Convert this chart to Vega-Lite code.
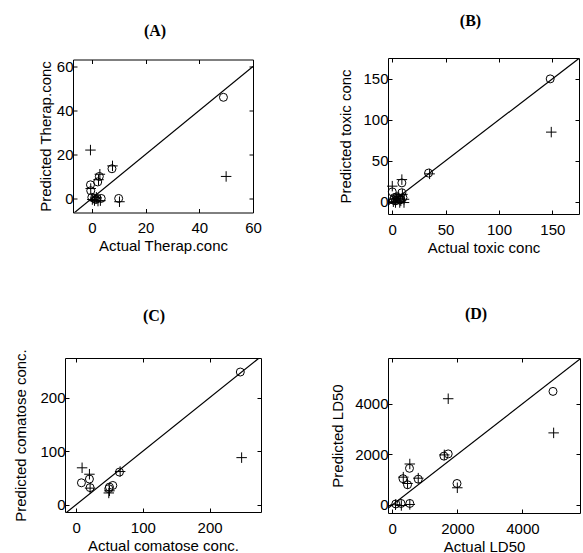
{
  "$schema": "https://vega.github.io/schema/vega-lite/v6.json",
  "padding": {"left": 13, "top": 12, "right": 0, "bottom": 0},
  "background": "white",
  "config": {
    "view": {"stroke": "black", "strokeWidth": 1},
    "axis": {"labelFont": "Liberation Sans", "labelFontSize": 15, "labelColor": "black", "titleFont": "Liberation Sans", "titleFontSize": 15, "titleFontWeight": "normal", "titleColor": "black", "tickColor": "black", "tickSize": -4, "domain": false, "grid": false, "labelFlush": false, "labelOverlap": false, "format": "d"},
    "axisX": {"labelPadding": 12, "titlePadding": 3},
    "axisY": {"labelPadding": 4, "titlePadding": 6},
    "title": {"font": "Liberation Serif", "fontSize": 16, "fontWeight": "bold", "color": "black"}
  },
  "datasets": {
    "pts": [
      {"panel": "A", "marker": "o", "actual": 49, "predicted": 46},
      {"panel": "A", "marker": "+", "actual": 50, "predicted": 10},
      {"panel": "A", "marker": "+", "actual": -0.5, "predicted": 22},
      {"panel": "A", "marker": "o", "actual": 7.5, "predicted": 13.5},
      {"panel": "A", "marker": "+", "actual": 7.7, "predicted": 14.8},
      {"panel": "A", "marker": "o", "actual": 2.8, "predicted": 10},
      {"panel": "A", "marker": "+", "actual": 3, "predicted": 11},
      {"panel": "A", "marker": "o", "actual": 2.2, "predicted": 7.5},
      {"panel": "A", "marker": "+", "actual": 2.5, "predicted": 8.5},
      {"panel": "A", "marker": "o", "actual": -0.5, "predicted": 6.2},
      {"panel": "A", "marker": "o", "actual": -0.4, "predicted": 3.5},
      {"panel": "A", "marker": "+", "actual": -0.4, "predicted": 4.5},
      {"panel": "A", "marker": "o", "actual": 0, "predicted": 0.5},
      {"panel": "A", "marker": "+", "actual": 0.2, "predicted": -0.5},
      {"panel": "A", "marker": "o", "actual": 1, "predicted": 0},
      {"panel": "A", "marker": "+", "actual": 1, "predicted": -1},
      {"panel": "A", "marker": "o", "actual": 1.5, "predicted": -0.5},
      {"panel": "A", "marker": "+", "actual": 1.7, "predicted": 0.5},
      {"panel": "A", "marker": "o", "actual": 2, "predicted": 0},
      {"panel": "A", "marker": "+", "actual": 2.3, "predicted": -1.2},
      {"panel": "A", "marker": "o", "actual": 3.5, "predicted": 0},
      {"panel": "A", "marker": "+", "actual": 3.2, "predicted": -1},
      {"panel": "A", "marker": "o", "actual": 10, "predicted": 0},
      {"panel": "A", "marker": "+", "actual": 10.3, "predicted": -1.5},
      {"panel": "B", "marker": "o", "actual": 148, "predicted": 150},
      {"panel": "B", "marker": "+", "actual": 149, "predicted": 85},
      {"panel": "B", "marker": "o", "actual": 34, "predicted": 35},
      {"panel": "B", "marker": "+", "actual": 35, "predicted": 34},
      {"panel": "B", "marker": "o", "actual": 9, "predicted": 23},
      {"panel": "B", "marker": "+", "actual": 9, "predicted": 27},
      {"panel": "B", "marker": "+", "actual": 0, "predicted": 19},
      {"panel": "B", "marker": "o", "actual": 0, "predicted": 12},
      {"panel": "B", "marker": "o", "actual": 9, "predicted": 11},
      {"panel": "B", "marker": "+", "actual": 9.5, "predicted": 9},
      {"panel": "B", "marker": "o", "actual": 2, "predicted": 5},
      {"panel": "B", "marker": "+", "actual": 2.5, "predicted": 3},
      {"panel": "B", "marker": "o", "actual": 4, "predicted": 6},
      {"panel": "B", "marker": "+", "actual": 4, "predicted": 4},
      {"panel": "B", "marker": "o", "actual": 6, "predicted": 4},
      {"panel": "B", "marker": "+", "actual": 6, "predicted": 6},
      {"panel": "B", "marker": "o", "actual": 8, "predicted": 3},
      {"panel": "B", "marker": "+", "actual": 8, "predicted": 1},
      {"panel": "B", "marker": "o", "actual": 1, "predicted": 2},
      {"panel": "B", "marker": "+", "actual": 1, "predicted": 0},
      {"panel": "B", "marker": "o", "actual": 10, "predicted": 5},
      {"panel": "B", "marker": "+", "actual": 11, "predicted": 3},
      {"panel": "B", "marker": "o", "actual": 7, "predicted": 2},
      {"panel": "B", "marker": "+", "actual": 7, "predicted": -1},
      {"panel": "B", "marker": "+", "actual": 11, "predicted": -1},
      {"panel": "B", "marker": "o", "actual": 3, "predicted": 1},
      {"panel": "B", "marker": "+", "actual": 3, "predicted": -1},
      {"panel": "C", "marker": "o", "actual": 246, "predicted": 248},
      {"panel": "C", "marker": "+", "actual": 248, "predicted": 88},
      {"panel": "C", "marker": "o", "actual": 65, "predicted": 61},
      {"panel": "C", "marker": "+", "actual": 66, "predicted": 62},
      {"panel": "C", "marker": "+", "actual": 9, "predicted": 69},
      {"panel": "C", "marker": "+", "actual": 20, "predicted": 57},
      {"panel": "C", "marker": "o", "actual": 20, "predicted": 48},
      {"panel": "C", "marker": "o", "actual": 8, "predicted": 41},
      {"panel": "C", "marker": "o", "actual": 21, "predicted": 32},
      {"panel": "C", "marker": "+", "actual": 21, "predicted": 31},
      {"panel": "C", "marker": "o", "actual": 50, "predicted": 33},
      {"panel": "C", "marker": "+", "actual": 50, "predicted": 26},
      {"panel": "C", "marker": "o", "actual": 55, "predicted": 36},
      {"panel": "C", "marker": "o", "actual": 49, "predicted": 30},
      {"panel": "C", "marker": "+", "actual": 49, "predicted": 22},
      {"panel": "D", "marker": "o", "actual": 4940, "predicted": 4490},
      {"panel": "D", "marker": "+", "actual": 4960, "predicted": 2850},
      {"panel": "D", "marker": "+", "actual": 1720, "predicted": 4200},
      {"panel": "D", "marker": "o", "actual": 1590, "predicted": 1930},
      {"panel": "D", "marker": "+", "actual": 1600, "predicted": 1980},
      {"panel": "D", "marker": "o", "actual": 1720, "predicted": 2020},
      {"panel": "D", "marker": "o", "actual": 1990, "predicted": 850},
      {"panel": "D", "marker": "+", "actual": 2000, "predicted": 680},
      {"panel": "D", "marker": "o", "actual": 530, "predicted": 1450},
      {"panel": "D", "marker": "+", "actual": 540, "predicted": 1620},
      {"panel": "D", "marker": "o", "actual": 330, "predicted": 1040},
      {"panel": "D", "marker": "+", "actual": 340, "predicted": 1100},
      {"panel": "D", "marker": "o", "actual": 470, "predicted": 800},
      {"panel": "D", "marker": "+", "actual": 470, "predicted": 850},
      {"panel": "D", "marker": "o", "actual": 800, "predicted": 1020},
      {"panel": "D", "marker": "+", "actual": 800, "predicted": 1060},
      {"panel": "D", "marker": "o", "actual": 540, "predicted": 60},
      {"panel": "D", "marker": "+", "actual": 540, "predicted": 20},
      {"panel": "D", "marker": "o", "actual": 110, "predicted": 40},
      {"panel": "D", "marker": "+", "actual": 100, "predicted": 10},
      {"panel": "D", "marker": "o", "actual": 270, "predicted": 60},
      {"panel": "D", "marker": "+", "actual": 280, "predicted": -20}
    ],
    "diag": [
      {"panel": "A", "actual": -7, "predicted": -7},
      {"panel": "A", "actual": 60, "predicted": 60},
      {"panel": "B", "actual": -15, "predicted": -15},
      {"panel": "B", "actual": 176, "predicted": 176},
      {"panel": "C", "actual": -17, "predicted": -17},
      {"panel": "C", "actual": 277, "predicted": 277},
      {"panel": "D", "actual": -320, "predicted": -320},
      {"panel": "D", "actual": 5810, "predicted": 5810}
    ]
  },
  "columns": 2,
  "bounds": "flush",
  "align": "all",
  "center": true,
  "spacing": {"row": 144, "column": 127},
  "concat": [
    {
      "width": 180, "height": 153,
      "title": {"text": "(A)", "offset": 20, "dx": -8},
      "resolve": {"axis": {"x": "independent", "y": "independent"}},
      "layer": [
        {"data": {"name": "diag"}, "transform": [{"filter": "datum.panel == 'A'"}],
         "mark": {"type": "line", "color": "black", "strokeWidth": 1.2, "clip": true},
         "encoding": {
           "x": {"field": "actual", "type": "quantitative", "scale": {"domain": [-7, 60], "nice": false, "zero": false}, "axis": {"title": "Actual Therap.conc", "values": [0, 20, 40, 60]}},
           "y": {"field": "predicted", "type": "quantitative", "scale": {"domain": [-6.4, 63.2], "nice": false, "zero": false}, "axis": {"title": "Predicted Therap.conc", "values": [0, 20, 40, 60], "titlePadding": 3}}
         }},
        {"data": {"name": "pts"}, "transform": [{"filter": "datum.panel == 'A' && datum.marker == 'o'"}],
         "mark": {"type": "point", "shape": "circle", "size": 64, "filled": false, "color": "black", "strokeWidth": 1, "opacity": 1},
         "encoding": {
           "x": {"field": "actual", "type": "quantitative", "axis": {"orient": "top", "values": [0, 20, 40, 60], "labels": false, "title": null}},
           "y": {"field": "predicted", "type": "quantitative", "axis": {"orient": "right", "values": [0, 20, 40, 60], "labels": false, "title": null}}
         }},
        {"data": {"name": "pts"}, "transform": [{"filter": "datum.panel == 'A' && datum.marker == '+'"}],
         "mark": {"type": "point", "shape": "M-1,0L1,0M0,-1L0,1", "size": 110, "filled": false, "color": "black", "strokeWidth": 1, "opacity": 1},
         "encoding": {
           "x": {"field": "actual", "type": "quantitative", "axis": null},
           "y": {"field": "predicted", "type": "quantitative", "axis": null}
         }}
      ]
    },
    {
      "width": 191, "height": 156,
      "title": {"text": "(B)", "offset": 29, "dx": -13},
      "resolve": {"axis": {"x": "independent", "y": "independent"}},
      "layer": [
        {"data": {"name": "diag"}, "transform": [{"filter": "datum.panel == 'B'"}],
         "mark": {"type": "line", "color": "black", "strokeWidth": 1.2, "clip": true},
         "encoding": {
           "x": {"field": "actual", "type": "quantitative", "scale": {"domain": [-4, 175], "nice": false, "zero": false}, "axis": {"title": "Actual toxic conc", "values": [0, 50, 100, 150]}},
           "y": {"field": "predicted", "type": "quantitative", "scale": {"domain": [-15, 175.5], "nice": false, "zero": false}, "axis": {"title": "Predicted toxic conc", "values": [0, 50, 100, 150], "titlePadding": 9.3}}
         }},
        {"data": {"name": "pts"}, "transform": [{"filter": "datum.panel == 'B' && datum.marker == 'o'"}],
         "mark": {"type": "point", "shape": "circle", "size": 64, "filled": false, "color": "black", "strokeWidth": 1, "opacity": 1},
         "encoding": {
           "x": {"field": "actual", "type": "quantitative", "axis": {"orient": "top", "values": [0, 50, 100, 150], "labels": false, "title": null}},
           "y": {"field": "predicted", "type": "quantitative", "axis": {"orient": "right", "values": [0, 50, 100, 150], "labels": false, "title": null}}
         }},
        {"data": {"name": "pts"}, "transform": [{"filter": "datum.panel == 'B' && datum.marker == '+'"}],
         "mark": {"type": "point", "shape": "M-1,0L1,0M0,-1L0,1", "size": 110, "filled": false, "color": "black", "strokeWidth": 1, "opacity": 1},
         "encoding": {
           "x": {"field": "actual", "type": "quantitative", "axis": null},
           "y": {"field": "predicted", "type": "quantitative", "axis": null}
         }}
      ]
    },
    {
      "width": 196, "height": 154,
      "title": {"text": "(C)", "offset": 25, "dx": -9},
      "resolve": {"axis": {"x": "independent", "y": "independent"}},
      "layer": [
        {"data": {"name": "diag"}, "transform": [{"filter": "datum.panel == 'C'"}],
         "mark": {"type": "line", "color": "black", "strokeWidth": 1.2, "clip": true},
         "encoding": {
           "x": {"field": "actual", "type": "quantitative", "scale": {"domain": [-16.6, 277], "nice": false, "zero": false}, "axis": {"title": "Actual comatose conc.", "values": [0, 100, 200]}},
           "y": {"field": "predicted", "type": "quantitative", "scale": {"domain": [-13.6, 274.2], "nice": false, "zero": false}, "axis": {"title": "Predicted comatose conc.", "values": [0, 100, 200], "titlePadding": 11.3}}
         }},
        {"data": {"name": "pts"}, "transform": [{"filter": "datum.panel == 'C' && datum.marker == 'o'"}],
         "mark": {"type": "point", "shape": "circle", "size": 64, "filled": false, "color": "black", "strokeWidth": 1, "opacity": 1},
         "encoding": {
           "x": {"field": "actual", "type": "quantitative", "axis": {"orient": "top", "values": [0, 100, 200], "labels": false, "title": null}},
           "y": {"field": "predicted", "type": "quantitative", "axis": {"orient": "right", "values": [0, 100, 200], "labels": false, "title": null}}
         }},
        {"data": {"name": "pts"}, "transform": [{"filter": "datum.panel == 'C' && datum.marker == '+'"}],
         "mark": {"type": "point", "shape": "M-1,0L1,0M0,-1L0,1", "size": 110, "filled": false, "color": "black", "strokeWidth": 1, "opacity": 1},
         "encoding": {
           "x": {"field": "actual", "type": "quantitative", "axis": null},
           "y": {"field": "predicted", "type": "quantitative", "axis": null}
         }}
      ]
    },
    {
      "width": 192, "height": 155,
      "title": {"text": "(D)", "offset": 36, "dx": -8},
      "resolve": {"axis": {"x": "independent", "y": "independent"}},
      "layer": [
        {"data": {"name": "diag"}, "transform": [{"filter": "datum.panel == 'D'"}],
         "mark": {"type": "line", "color": "black", "strokeWidth": 1.2, "clip": true},
         "encoding": {
           "x": {"field": "actual", "type": "quantitative", "scale": {"domain": [-130, 5770], "nice": false, "zero": false}, "axis": {"title": "Actual LD50", "values": [0, 2000, 4000]}},
           "y": {"field": "predicted", "type": "quantitative", "scale": {"domain": [-317, 5810], "nice": false, "zero": false}, "axis": {"title": "Predicted LD50", "values": [0, 2000, 4000], "titlePadding": 9.6}}
         }},
        {"data": {"name": "pts"}, "transform": [{"filter": "datum.panel == 'D' && datum.marker == 'o'"}],
         "mark": {"type": "point", "shape": "circle", "size": 64, "filled": false, "color": "black", "strokeWidth": 1, "opacity": 1},
         "encoding": {
           "x": {"field": "actual", "type": "quantitative", "axis": {"orient": "top", "values": [0, 2000, 4000], "labels": false, "title": null}},
           "y": {"field": "predicted", "type": "quantitative", "axis": {"orient": "right", "values": [0, 2000, 4000], "labels": false, "title": null}}
         }},
        {"data": {"name": "pts"}, "transform": [{"filter": "datum.panel == 'D' && datum.marker == '+'"}],
         "mark": {"type": "point", "shape": "M-1,0L1,0M0,-1L0,1", "size": 110, "filled": false, "color": "black", "strokeWidth": 1, "opacity": 1},
         "encoding": {
           "x": {"field": "actual", "type": "quantitative", "axis": null},
           "y": {"field": "predicted", "type": "quantitative", "axis": null}
         }}
      ]
    }
  ]
}
